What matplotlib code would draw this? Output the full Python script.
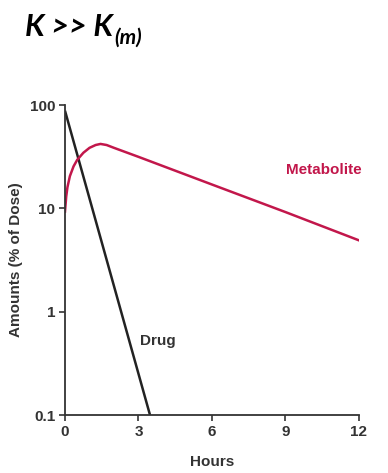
import matplotlib
matplotlib.use("Agg")
import matplotlib.pyplot as plt
import numpy as np

# Data
drug_t = [0.0, 3.47]
drug_amt = [88.0, 0.1]

met_t = [0.0, 0.05, 0.1, 0.2, 0.35, 0.5, 0.75, 1.0, 1.25, 1.45, 1.7, 2.0, 3.0, 6.0, 9.0, 12.0]
met_amt = [9.3, 13.0, 16.0, 20.5, 25.5, 29.5, 34.5, 38.5, 41.0, 42.0, 41.0, 38.5, 31.5, 17.0, 9.2, 4.9]

x_ticks = [0, 3, 6, 9, 12]
y_ticks = [0.1, 1, 10, 100]
y_ticklabels = ["0.1", "1", "10", "100"]

drug_color = "#222222"
met_color = "#c2174b"
txt_color = "#333333"

plt.rcParams['font.family'] = ['Liberation Sans', 'DejaVu Sans']

fig = plt.figure(figsize=(3.88, 4.73), dpi=100)
ax = fig.add_axes([0.1675, 0.1226, 0.7577, 0.6554])

ax.plot(drug_t, drug_amt, color=drug_color, lw=1.8, solid_capstyle='butt')
ax.plot(met_t, met_amt, color=met_color, lw=1.8)

ax.set_yscale('log')
ax.set_xlim(0, 12)
ax.set_ylim(0.1, 100)
ax.set_xticks(x_ticks)
ax.set_yticks(y_ticks)
ax.set_yticklabels(y_ticklabels)
ax.minorticks_off()
for s in ['top', 'right']:
    ax.spines[s].set_visible(False)
for s in ['left', 'bottom']:
    ax.spines[s].set_linewidth(1.3)
    ax.spines[s].set_color(txt_color)
ax.tick_params(direction='out', length=4, width=1.2, color=txt_color,
               labelsize=11, pad=3)
for lab in ax.get_xticklabels() + ax.get_yticklabels():
    lab.set_fontweight('bold')
    lab.set_color(txt_color)

ax.set_xlabel("Hours", fontsize=11, fontweight='bold', color=txt_color, labelpad=12)
ax.set_ylabel("Amounts (% of Dose)", fontsize=11, fontweight='bold', color=txt_color, labelpad=5)

ax.text(3.8, 0.52, "Drug", fontsize=11, fontweight='bold', color=txt_color, ha='center', va='center')
ax.text(10.55, 23.5, "Metabolite", fontsize=11, fontweight='bold', color=met_color, ha='center', va='center')

t1 = fig.text(0.064, 0.924, "K >> K", fontsize=22, fontweight='bold', style='italic',
              family=['Lato', 'DejaVu Sans'], ha='left', va='baseline')
fig.canvas.draw()
bb = t1.get_window_extent(renderer=fig.canvas.get_renderer())
x_end = bb.x1 / fig.bbox.width
fig.text(x_end + 0.004, 0.907, "(m)", fontsize=15, fontweight='bold', style='italic',
         family=['Lato', 'DejaVu Sans'], ha='left', va='baseline')

fig.savefig("out.png", dpi=100)
